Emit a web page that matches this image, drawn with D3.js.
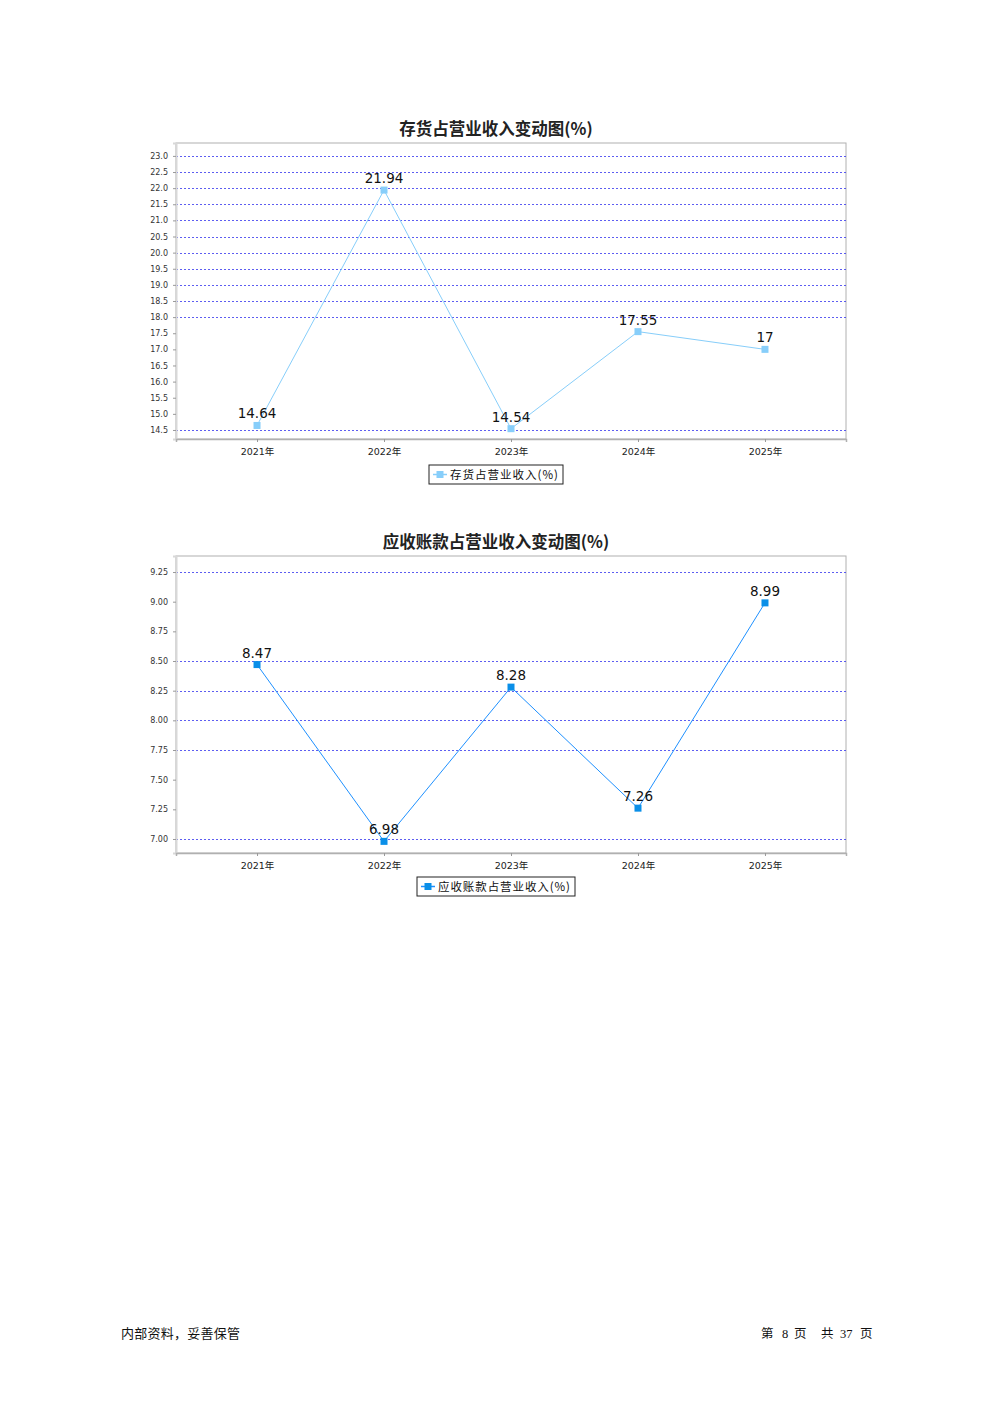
<!DOCTYPE html>
<html><head><meta charset="utf-8">
<script src="https://cdn.jsdelivr.net/npm/d3@7"></script>
<style>body{margin:0;background:#fff}svg{display:block}</style>
</head><body>
<svg id="c" width="992" height="1403"></svg>
<script>
const categories = ["2021年","2022年","2023年","2024年","2025年"];
const inventoryValues = [14.64, 21.94, 14.54, 17.55, 17];
const inventoryTicks = [14.5,15.0,15.5,16.0,16.5,17.0,17.5,18.0,18.5,19.0,19.5,20.0,20.5,21.0,21.5,22.0,22.5,23.0];
const inventoryGrid = [14.5,18.0,18.5,19.0,19.5,20.0,20.5,21.0,21.5,22.0,22.5,23.0];
const receivableValues = [8.47, 6.98, 8.28, 7.26, 8.99];
const receivableTicks = [7.00,7.25,7.50,7.75,8.00,8.25,8.50,8.75,9.00,9.25];
const receivableGrid = [7.00,7.75,8.00,8.25,8.50,9.25];

const svg = d3.select("#c");
const FONT = "'DejaVu Sans', 'Noto Sans CJK SC', sans-serif";

function chart(o){
  const g = svg.append("g");
  const x = d3.scalePoint().domain(categories).range([o.left,o.right]).padding(0.638);
  const y = d3.scaleLinear().domain(o.domain).range([o.bottom,o.top]);
  g.append("text").attr("x",496).attr("y",o.titleY).attr("text-anchor","middle")
   .attr("font-family","'Noto Sans CJK SC', sans-serif").attr("font-weight","bold").attr("font-size",o.titleSize)
   .attr("fill","#222").text(o.title);
  g.append("rect").attr("x",o.left).attr("y",o.top).attr("width",o.right-o.left).attr("height",o.bottom-o.top)
   .attr("fill","none").attr("stroke","#b0b0b0").attr("stroke-width",1);
  g.selectAll(".grid").data(o.grid).join("line")
   .attr("x1",o.left).attr("x2",o.right).attr("y1",d=>Math.round(y(d))+0.5).attr("y2",d=>Math.round(y(d))+0.5)
   .attr("stroke","#3333ee").attr("stroke-width",0.8).attr("stroke-dasharray","2,2");
  const ya = g.append("g").attr("transform",`translate(${o.left},0)`)
   .call(d3.axisLeft(y).tickValues(o.ticks).tickFormat(d3.format(o.fmt)).tickSize(3).tickPadding(5));
  ya.select(".domain").attr("stroke","#d8d8d8").attr("stroke-width",2);
  ya.selectAll(".tick line").attr("stroke","#999");
  ya.selectAll(".tick text").attr("font-family",FONT).attr("font-size",8).attr("fill","#333");
  const xa = g.append("g").attr("transform",`translate(0,${o.bottom})`)
   .call(d3.axisBottom(x).tickSize(3).tickPadding(6));
  xa.select(".domain").attr("stroke","#b0b0b0").attr("stroke-width",1.5);
  xa.selectAll(".tick line").attr("stroke","#999");
  xa.selectAll(".tick text").attr("font-family",FONT).attr("font-size",9.5).attr("fill","#222");
  const pts = categories.map((c,i)=>[x(c),y(o.values[i])]);
  g.append("path").attr("d",d3.line()(pts)).attr("fill","none").attr("stroke",o.color).attr("stroke-width",1);
  g.selectAll(".pt").data(pts).join("rect")
   .attr("x",d=>d[0]-3.5).attr("y",d=>d[1]-3.5).attr("width",7).attr("height",7).attr("fill",o.marker);
  g.selectAll(".lbl").data(o.values).join("text")
   .attr("x",(d,i)=>x(categories[i])).attr("y",d=>y(d)-7).attr("text-anchor","middle")
   .attr("font-family",FONT).attr("font-size",13.5).attr("fill","#111").text(d=>d);
  const lg = g.append("g");
  lg.append("rect").attr("x",o.lx).attr("y",o.ly).attr("width",o.lw).attr("height",19)
   .attr("fill","#fff").attr("stroke","#222").attr("stroke-width",1);
  lg.append("line").attr("x1",o.lx+4).attr("x2",o.lx+18).attr("y1",o.ly+9.5).attr("y2",o.ly+9.5).attr("stroke",o.color).attr("stroke-width",1.5);
  lg.append("rect").attr("x",o.lx+7.5).attr("y",o.ly+6).attr("width",7).attr("height",7).attr("fill",o.marker);
  lg.append("text").attr("x",o.lx+21).attr("y",o.ly+14).attr("font-family","'Noto Sans CJK SC', sans-serif")
   .attr("font-size",11.5).attr("textLength",o.lw-26).attr("fill","#111").text(o.legend);
}

chart({title:"存货占营业收入变动图(%)",titleY:135,titleSize:16.5,left:176,right:846,top:143,bottom:439,
  domain:[14.22,23.4],ticks:inventoryTicks,grid:inventoryGrid,fmt:".1f",values:inventoryValues,
  color:"#87CEFA",marker:"#87CEFA",legend:"存货占营业收入(%)",lx:429,ly:465,lw:134});
chart({title:"应收账款占营业收入变动图(%)",titleY:548,titleSize:16.5,left:176,right:846,top:556,bottom:853,
  domain:[6.882,9.385],ticks:receivableTicks,grid:receivableGrid,fmt:".2f",values:receivableValues,
  color:"#1E90FF",marker:"#0A8FE8",legend:"应收账款占营业收入(%)",lx:417,ly:877,lw:158});

// footer
const footerFont = "'Noto Sans CJK SC', serif";
svg.append("text").attr("x",121).attr("y",1338).attr("font-family",footerFont).attr("font-size",13)
  .attr("textLength",119).attr("fill","#111").text("内部资料，妥善保管");
const footerRight = [["第",761],["8",782],["页",794],["共",821],["37",840],["页",860]];
svg.selectAll(".ft").data(footerRight).join("text").attr("x",d=>d[1]).attr("y",1338)
  .attr("font-family",d=>/\d/.test(d[0])?"'Liberation Serif', serif":footerFont).attr("font-size",12.5)
  .attr("fill","#111").text(d=>d[0]);
</script>
</body></html>
